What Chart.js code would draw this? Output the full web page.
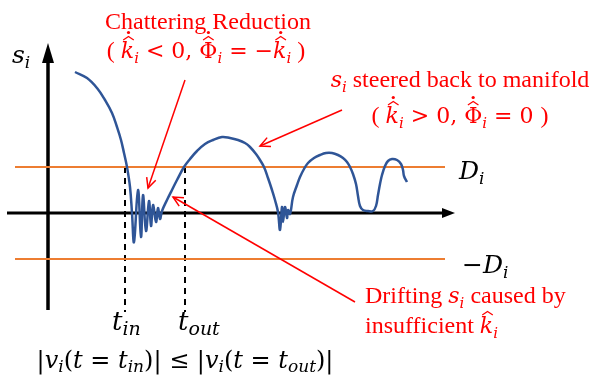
<!DOCTYPE html>
<html><head><meta charset="utf-8">
<script src="https://cdn.jsdelivr.net/npm/chart.js@4"></script>
<style>html,body{margin:0;padding:0;background:#fff;}#wrap{width:594px;height:378px;position:relative;}</style>
</head><body><div id="wrap"><canvas id="c"></canvas></div>
<script>
// time (t) and sliding variable s_i values
const curveT = [27,39,49,57,64,69,73,76,79,82,84,86,90,93,95,98,101,103,105,108,110,112,114,119,124,129,136,142,149,157,165,174,182,190,197,202,208,212,216,220,224,227,230,232,234,235,237,239,240,242,245,249,252,256,260,266,272,278,284,290,295,299,302,305,308,310,312,315,320,325,328,330,332,334,337,340,344,349,353,355,356,359];
const curveS = [141,135,125,113,100,86,73,60,46,26,0,-29,23,-24,18,-18,12,-13,8,-9,5,-6,2,13,23,33,46,54,62,69,73,76,75,73,70,66,59,53,46,35,23,13,1,-17,6,-9,6,-5,3,-1,16,28,36,44,50,55,58,60,60,58,55,51,46,39,29,17,7,3,2,2,7,18,29,38,47,52,54,53,49,43,37,31];
const boundD = 46;            // D_i
const tIn = 77, tOut = 137;   // t_in, t_out
const xAxisT = [-41, 400];    // horizontal axis extent
const yAxisS = [-97, 155];    // vertical axis extent
const boundT = [-33, 397];    // extent of the +/-D_i lines
const dashBottom = -99;
// annotation arrows [fromT, fromS, toT, toS]
const arrows = [[137,133,100,25],[294,103,212,67],[307,-89,125,16]];

const BLUE='#2F5597', ORANGE='#ED7D31', RED='#FF0000';
const pts=(xs,ys)=>xs.map((x,i)=>({x:x,y:ys[i]}));

const plugin={id:'annot',afterDatasetsDraw(chart){
  const c=chart.ctx, X=chart.scales.x, Y=chart.scales.y;
  const px=t=>X.getPixelForValue(t), py=s=>Y.getPixelForValue(s);
  c.save();
  c.fillStyle='#000';
  let tx=px(xAxisT[1]+7), ty=py(0);
  c.beginPath();c.moveTo(tx,ty);c.lineTo(tx-13,ty-5);c.lineTo(tx-13,ty+5);c.closePath();c.fill();
  tx=px(0); ty=py(yAxisS[1]+15);
  c.beginPath();c.moveTo(tx,ty);c.lineTo(tx-6,ty+20);c.lineTo(tx+6,ty+20);c.closePath();c.fill();
  c.strokeStyle=RED;c.lineWidth=1.5;
  arrows.forEach(a=>{
    const x1=px(a[0]),y1=py(a[1]),x2=px(a[2]),y2=py(a[3]);
    c.beginPath();c.moveTo(x1,y1);c.lineTo(x2,y2);c.stroke();
    const ang=Math.atan2(y2-y1,x2-x1), L=11, sp=0.45;
    c.beginPath();
    c.moveTo(x2-L*Math.cos(ang-sp),y2-L*Math.sin(ang-sp));
    c.lineTo(x2,y2);
    c.lineTo(x2-L*Math.cos(ang+sp),y2-L*Math.sin(ang+sp));
    c.stroke();
  });
  c.restore();
  drawTexts(c);
}};

function rich(c,runs,x,y,align,color){
  const ws=runs.map(r=>{c.font=r.f;return c.measureText(r.t).width;});
  const tot=ws.reduce((a,b)=>a+b,0);
  let cx=align==='center'?x-tot/2:x;
  c.fillStyle=color;c.strokeStyle=color;
  runs.forEach((r,i)=>{
    c.font=r.f;
    const yy=y+(r.dy||0);
    c.fillText(r.t,cx,yy);
    if(r.hat){
      const sz=r.sz, mx=cx+ws[i]/2+(r.sk||0), top=yy-r.top;
      c.lineWidth=1.2;
      c.beginPath();c.moveTo(mx-sz*0.24,top);c.lineTo(mx,top-sz*0.16);c.lineTo(mx+sz*0.24,top);c.stroke();
      if(r.dot){c.beginPath();c.arc(mx,top-sz*0.16-4,1.6,0,Math.PI*2);c.fill();}
    }
    cx+=ws[i];
  });
}

function drawTexts(c){
  c.save();
  c.textBaseline='alphabetic';
  const RT="24px 'Liberation Serif'", MI="italic 22px 'DejaVu Serif'", MS="italic 15px 'DejaVu Serif'", MR="22px 'DejaVu Serif'";
  rich(c,[{t:'Chattering Reduction',f:RT}],208,29,'center',RED);
  rich(c,[{t:'( ',f:RT},{t:'k',f:MI,hat:1,dot:1,sz:22,top:18,sk:1},{t:'i',f:MS,dy:5},{t:' < 0, ',f:MR},
          {t:'Φ',f:MR,hat:1,dot:1,sz:22,top:18},{t:'i',f:MS,dy:5},{t:' = −',f:MR},
          {t:'k',f:MI,hat:1,dot:1,sz:22,top:18,sk:1},{t:'i',f:MS,dy:5},{t:' )',f:RT}],206,58,'center',RED);
  rich(c,[{t:'s',f:MI},{t:'i',f:MS,dy:5},{t:' steered back to manifold',f:RT}],460,87,'center',RED);
  rich(c,[{t:'( ',f:RT},{t:'k',f:MI,hat:1,dot:1,sz:22,top:18,sk:1},{t:'i',f:MS,dy:5},{t:' > 0, ',f:MR},
          {t:'Φ',f:MR,hat:1,dot:1,sz:22,top:18},{t:'i',f:MS,dy:5},{t:' = 0 ',f:MR},{t:')',f:RT}],460,123,'center',RED);
  rich(c,[{t:'Drifting ',f:RT},{t:'s',f:MI},{t:'i',f:MS,dy:5},{t:' caused by',f:RT}],365,303,'left',RED);
  rich(c,[{t:'insufficient ',f:RT},{t:'k',f:MI,hat:1,sz:22,top:18,sk:1},{t:'i',f:MS,dy:5}],365,333,'left',RED);
  const BI="italic 25px 'DejaVu Serif'", BS="italic 17px 'DejaVu Serif'";
  rich(c,[{t:'s',f:BI},{t:'i',f:BS,dy:5}],12,63,'left','#000');
  rich(c,[{t:'D',f:BI},{t:'i',f:BS,dy:5}],459,179,'left','#000');
  rich(c,[{t:'−',f:"25px 'DejaVu Serif'"},{t:'D',f:BI},{t:'i',f:BS,dy:5}],462,273,'left','#000');
  const TI="italic 26px 'DejaVu Serif'", TS="italic 19px 'DejaVu Serif'";
  rich(c,[{t:'t',f:TI},{t:'in',f:TS,dy:5}],112,330,'left','#000');
  rich(c,[{t:'t',f:TI},{t:'out',f:TS,dy:5}],178,330,'left','#000');
  const FI="italic 24px 'DejaVu Serif'", FR="24px 'DejaVu Serif'", FS="italic 17px 'DejaVu Serif'";
  rich(c,[{t:'|',f:FR},{t:'v',f:FI},{t:'i',f:FS,dy:4},{t:'(',f:FR},{t:'t',f:FI},{t:' = ',f:FR},{t:'t',f:FI},{t:'in',f:FS,dy:4},{t:')| ≤ |',f:FR},
          {t:'v',f:FI},{t:'i',f:FS,dy:4},{t:'(',f:FR},{t:'t',f:FI},{t:' = ',f:FR},{t:'t',f:FI},{t:'out',f:FS,dy:4},{t:')|',f:FR}],185,368,'center','#000');
  c.restore();
}

new Chart(document.getElementById('c'),{
  type:'line',
  data:{datasets:[
    {data:pts(curveT,curveS),borderColor:BLUE,borderWidth:2.5,pointRadius:0,tension:0.4,fill:false},
    {data:pts(boundT,[boundD,boundD]),borderColor:ORANGE,borderWidth:2,pointRadius:0},
    {data:pts(boundT,[-boundD,-boundD]),borderColor:ORANGE,borderWidth:2,pointRadius:0},
    {data:pts([tIn,tIn],[boundD,dashBottom]),borderColor:'#000',borderWidth:2,borderDash:[6,5],pointRadius:0},
    {data:pts([tOut,tOut],[boundD,dashBottom]),borderColor:'#000',borderWidth:2,borderDash:[6,5],pointRadius:0},
    {data:pts(xAxisT,[0,0]),borderColor:'#000',borderWidth:3,pointRadius:0},
    {data:pts([0,0],yAxisS),borderColor:'#000',borderWidth:3.5,pointRadius:0}
  ]},
  options:{responsive:true,maintainAspectRatio:false,animation:false,events:[],
    layout:{padding:0},
    plugins:{legend:{display:false},tooltip:{enabled:false}},
    scales:{x:{type:'linear',min:-48,max:546,display:false},y:{type:'linear',min:-165,max:213,display:false}}},
  plugins:[plugin]
});
</script></body></html>
